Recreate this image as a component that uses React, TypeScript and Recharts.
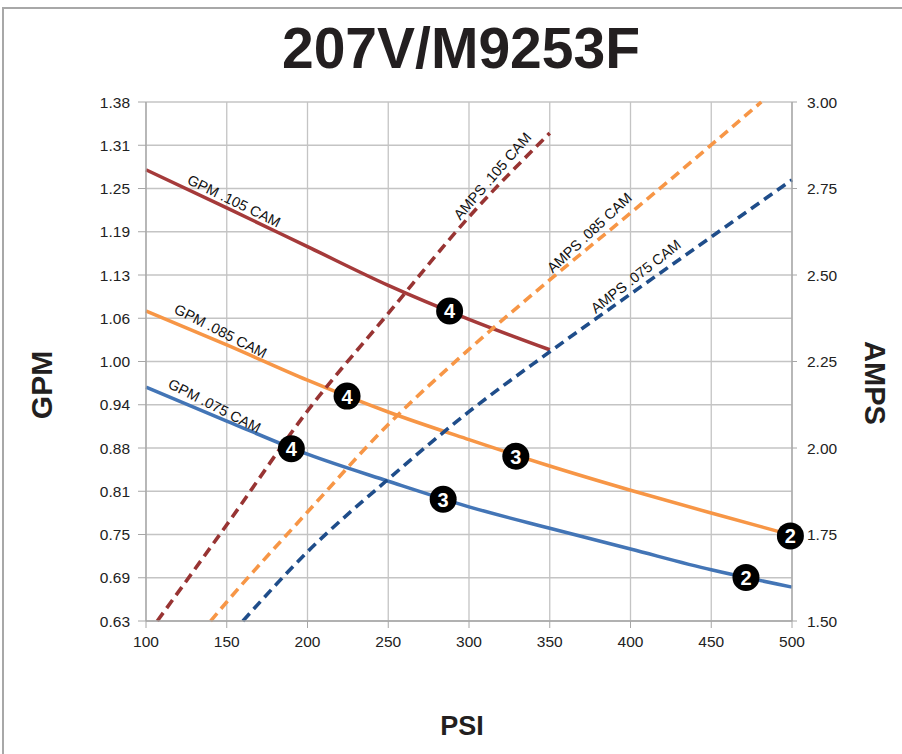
import React from "react";
import {
  ComposedChart,
  Line,
  Scatter,
  XAxis,
  YAxis,
  CartesianGrid,
} from "recharts";

// ---- axis ticks ----
const psiTicks = [100, 150, 200, 250, 300, 350, 400, 450, 500];
const gpmTicks = [0.625, 0.6875, 0.75, 0.8125, 0.875, 0.9375, 1.0, 1.0625, 1.125, 1.1875, 1.25, 1.3125, 1.375];
const ampTicks = [1.5, 1.75, 2.0, 2.25, 2.5, 2.75, 3.0];

// ---- GPM series (left axis) ----
const psiGrid = [100, 150, 200, 250, 300, 350, 400, 450, 500];
const gpm105 = [1.277, 1.222, 1.166, 1.11, 1.061, 1.017];
const gpm085 = [1.073, 1.024, 0.973, 0.927, 0.887, 0.849, 0.814, 0.781, 0.749];
const gpm075 = [0.963, 0.914, 0.866, 0.827, 0.79, 0.759, 0.729, 0.699, 0.674];

// ---- AMPS series (right axis) ----
const psiAmp105 = [107, 150, 200, 250, 300, 350];
const amp105 = [1.5, 1.778, 2.107, 2.389, 2.668, 2.91];
const psiAmp085 = [140, 150, 200, 250, 300, 350, 400, 450, 481];
const amp085 = [1.5, 1.555, 1.815, 2.068, 2.285, 2.486, 2.679, 2.876, 3.0];
const psiAmp075 = [160, 200, 250, 300, 350, 400, 450, 500];
const amp075 = [1.5, 1.7, 1.91, 2.105, 2.278, 2.445, 2.61, 2.775];

// ---- numbered markers (on GPM curves) ----
const markerPsi = [288, 224.5, 190, 329, 284, 499, 471.5];
const markerGpm = [1.073, 0.95, 0.874, 0.863, 0.801, 0.748, 0.688];
const markerNum = ["4", "4", "4", "3", "3", "2", "2"];

// ---- curve labels ----
const gpmLabelText = ["GPM .105 CAM", "GPM .085 CAM", "GPM .075 CAM"];
const gpmLabelPsi = [154.5, 146.2, 142.4];
const gpmLabelVal = [1.232, 1.044, 0.936];
const ampLabelText = ["AMPS .105 CAM", "AMPS .085 CAM", "AMPS .075 CAM"];
const ampLabelPsi = [314.5, 374.6, 403.3];
const ampLabelVal = [2.786, 2.622, 2.496];

const labelAngle: Record<string, number> = {
  "GPM .105 CAM": 26,
  "GPM .085 CAM": 27,
  "GPM .075 CAM": 27,
  "AMPS .105 CAM": -49,
  "AMPS .085 CAM": -43,
  "AMPS .075 CAM": -38,
};

const zip = (xs: number[], ys: number[]) => ys.map((v, i) => ({ psi: xs[i], v }));

const d105 = zip(psiGrid, gpm105);
const d085 = zip(psiGrid, gpm085);
const d075 = zip(psiGrid, gpm075);
const a105 = zip(psiAmp105, amp105);
const a085 = zip(psiAmp085, amp085);
const a075 = zip(psiAmp075, amp075);
const markers = markerPsi.map((psi, i) => ({ psi, v: markerGpm[i], label: markerNum[i] }));
const gpmLabels = gpmLabelPsi.map((psi, i) => ({ psi, v: gpmLabelVal[i], text: gpmLabelText[i] }));
const ampLabels = ampLabelPsi.map((psi, i) => ({ psi, v: ampLabelVal[i], text: ampLabelText[i] }));

const FONT = "'Liberation Sans', Arial, sans-serif";
const RED = "#A53A3A";
const RED_D = "#983433";
const ORANGE = "#F79646";
const BLUE = "#4375B6";
const BLUE_D = "#1F4D8A";
const GRID = "#c4c4c4";

const MarkerShape = (props: any) => {
  const { cx, cy, payload } = props;
  if (cx == null || cy == null) return null;
  return (
    <g>
      <circle cx={cx} cy={cy} r={13.5} fill="#000" />
      <text
        x={cx}
        y={cy}
        dy="0.37em"
        textAnchor="middle"
        fill="#fff"
        fontSize={20}
        fontWeight="bold"
        fontFamily={FONT}
      >
        {payload.label}
      </text>
    </g>
  );
};

const LabelShape = (props: any) => {
  const { cx, cy, payload } = props;
  if (cx == null || cy == null) return null;
  const a = labelAngle[payload.text] || 0;
  return (
    <text
      x={cx}
      y={cy}
      textAnchor="middle"
      dominantBaseline="central"
      transform={`rotate(${a} ${cx} ${cy})`}
      fontSize={14.5}
      fill="#111"
      fontFamily={FONT}
    >
      {payload.text}
    </text>
  );
};

const fmt2 = (v: number) => v.toFixed(2);

export default function App() {
  const W = 902;
  const H = 754;
  return (
    <div style={{ position: "absolute", left: 0, top: 0, width: W, height: H, background: "#fff" }}>
      <div
        style={{
          position: "absolute",
          left: 2,
          top: 7,
          width: W - 2,
          height: H - 7,
          borderTop: "2px solid #a8a8a8",
          borderLeft: "2px solid #a8a8a8",
          boxSizing: "border-box",
        }}
      />
      <div style={{ position: "absolute", left: 0, top: 0 }}>
        <ComposedChart
          width={W}
          height={H}
          margin={{ top: 102, left: 86, right: 50, bottom: 103 }}
          style={{ fontFamily: FONT }}
        >
          <CartesianGrid xAxisId="x" yAxisId="left" stroke={GRID} strokeWidth={1.3} />
          <XAxis
            xAxisId="x"
            type="number"
            dataKey="psi"
            domain={[100, 500]}
            ticks={psiTicks}
            interval={0}
            height={30}
            tickSize={7}
            tickMargin={8}
            axisLine={{ stroke: "#a6a6a6", strokeWidth: 1.3 }}
            tickLine={{ stroke: "#a6a6a6" }}
            tick={{ fontSize: 15.5, fill: "#222", fontFamily: FONT }}
          />
          <YAxis
            yAxisId="left"
            type="number"
            domain={[0.625, 1.375]}
            ticks={gpmTicks}
            interval={0}
            width={60}
            tickSize={8}
            tickMargin={8}
            tickFormatter={fmt2}
            axisLine={{ stroke: "#a6a6a6", strokeWidth: 1.3 }}
            tickLine={{ stroke: "#a6a6a6" }}
            tick={{ fontSize: 15.5, fill: "#222", fontFamily: FONT }}
          />
          <YAxis
            yAxisId="right"
            orientation="right"
            type="number"
            domain={[1.5, 3.0]}
            ticks={ampTicks}
            interval={0}
            width={60}
            tickSize={5}
            tickMargin={10}
            tickFormatter={fmt2}
            axisLine={{ stroke: "#a6a6a6", strokeWidth: 1.3 }}
            tickLine={{ stroke: "#a6a6a6" }}
            tick={{ fontSize: 15.5, fill: "#222", fontFamily: FONT }}
          />

          <Line xAxisId="x" yAxisId="left" data={d105} dataKey="v" type="monotone" stroke={RED} strokeWidth={3.5} dot={false} isAnimationActive={false} />
          <Line xAxisId="x" yAxisId="left" data={d085} dataKey="v" type="monotone" stroke={ORANGE} strokeWidth={3.5} dot={false} isAnimationActive={false} />
          <Line xAxisId="x" yAxisId="left" data={d075} dataKey="v" type="monotone" stroke={BLUE} strokeWidth={3.5} dot={false} isAnimationActive={false} />

          <Line xAxisId="x" yAxisId="right" data={a105} dataKey="v" type="monotone" stroke={RED_D} strokeWidth={3.6} strokeDasharray="10 6" dot={false} isAnimationActive={false} />
          <Line xAxisId="x" yAxisId="right" data={a085} dataKey="v" type="monotone" stroke={ORANGE} strokeWidth={3.6} strokeDasharray="10 6" dot={false} isAnimationActive={false} />
          <Line xAxisId="x" yAxisId="right" data={a075} dataKey="v" type="monotone" stroke={BLUE_D} strokeWidth={3.6} strokeDasharray="10 6" dot={false} isAnimationActive={false} />

          <Scatter xAxisId="x" yAxisId="left" data={gpmLabels} dataKey="v" shape={LabelShape} isAnimationActive={false} />
          <Scatter xAxisId="x" yAxisId="right" data={ampLabels} dataKey="v" shape={LabelShape} isAnimationActive={false} />
          <Scatter xAxisId="x" yAxisId="left" data={markers} dataKey="v" shape={MarkerShape} isAnimationActive={false} />
        </ComposedChart>
      </div>
      <svg
        width={W}
        height={H}
        style={{ position: "absolute", left: 0, top: 0, pointerEvents: "none" }}
      >
        <text x={461} y={68} textAnchor="middle" fontSize={57} fontWeight="bold" fill="#231f20" fontFamily={FONT}>
          207V/M9253F
        </text>
        <text
          x={41}
          y={385}
          textAnchor="middle"
          dominantBaseline="central"
          transform="rotate(-90 41 385)"
          fontSize={30}
          fontWeight="bold"
          fill="#231f20"
          fontFamily={FONT}
        >
          GPM
        </text>
        <text
          x={875}
          y={383}
          textAnchor="middle"
          dominantBaseline="central"
          transform="rotate(90 875 383)"
          fontSize={29}
          fontWeight="bold"
          fill="#231f20"
          fontFamily={FONT}
        >
          AMPS
        </text>
        <text x={462} y={735} textAnchor="middle" fontSize={27} fontWeight="bold" fill="#231f20" fontFamily={FONT}>
          PSI
        </text>
      </svg>
    </div>
  );
}
